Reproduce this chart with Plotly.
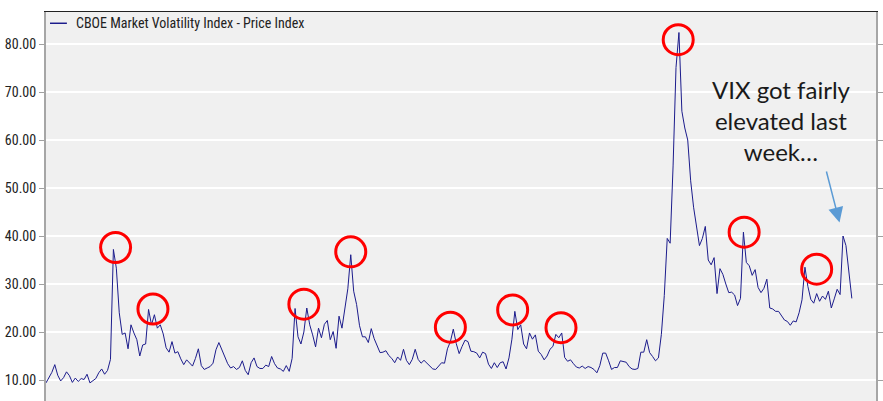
import plotly.graph_objects as go
import pandas as pd

series_name = "CBOE Market Volatility Index - Price Index"
start_date = "2017-11-06"
end_of_axis = "2020-12-13"

vix_values = [
    9.4, 10.4, 11.6, 13.2, 11.0, 9.8, 10.5, 11.7, 10.9, 9.5,
    10.4, 9.7, 10.3, 10.1, 11.2, 9.4, 9.8, 10.3, 11.5, 12.3,
    11.2, 12.0, 14.3, 37.2, 33.3, 24.0, 19.5, 19.8, 16.5, 21.5,
    19.8, 18.4, 15.0, 17.3, 17.5, 24.7, 21.5, 23.6, 20.8, 21.5,
    19.6, 16.7, 15.8, 18.0, 15.6, 15.9, 14.4, 13.2, 14.2, 13.5,
    12.9, 14.5, 16.5, 13.0, 12.2, 12.5, 12.8, 13.5, 16.3, 17.8,
    16.3, 14.5, 13.4, 12.5, 12.8, 12.2, 12.6, 14.0, 12.0, 11.1,
    13.6, 14.6, 12.8, 12.4, 12.4, 13.1, 12.8, 14.9, 13.4, 12.5,
    12.3, 11.8, 13.0, 11.8, 14.5, 24.9, 19.0, 17.5, 20.0, 25.0,
    21.5, 19.4, 16.9, 20.8, 18.8, 21.6, 22.4, 18.4, 20.1, 16.6,
    23.3, 20.8, 25.3, 29.0, 36.1, 28.5, 25.7, 21.3, 19.0, 19.0,
    17.8, 20.7, 18.6, 17.0, 15.7, 15.8, 16.1, 15.1, 14.5, 13.6,
    14.8, 14.1, 16.4, 14.1, 13.2, 14.3, 16.4, 14.3, 13.5, 14.1,
    13.5, 12.8, 12.3, 12.2, 12.8, 13.6, 13.5, 16.5, 18.0, 20.6,
    17.6, 15.5, 17.0, 18.3, 18.0, 16.0, 15.9, 15.6, 14.6, 15.8,
    15.5, 13.3, 12.4, 13.6, 12.6, 13.6, 13.8, 12.3, 14.6, 18.5,
    24.3, 20.5, 21.5, 17.5, 16.5, 19.8, 18.5, 19.4, 16.0, 15.3,
    14.2, 15.0, 16.4, 17.0, 19.5, 18.8, 19.8, 14.7, 13.9, 14.2,
    13.4, 12.7, 12.5, 12.9, 12.4, 12.8, 12.6, 12.2, 11.5, 13.0,
    15.6, 15.6, 14.0, 12.2, 12.6, 12.6, 14.0, 13.8, 13.7, 12.8,
    12.3, 12.2, 12.4, 15.8, 15.8, 18.4, 15.7, 14.9, 14.0, 14.6,
    19.5, 27.6, 39.5, 38.5, 54.6, 75.1, 82.4, 66.0, 62.5, 60.0,
    51.5, 46.0, 41.8, 38.0, 39.5, 42.0, 35.0, 34.0, 35.5, 28.0,
    33.2, 32.0, 30.0, 28.2, 28.3, 27.7, 25.5, 27.0, 40.8, 34.5,
    33.8, 31.8, 33.0, 29.3, 28.2, 29.1, 31.0, 25.0, 24.8, 24.3,
    24.3, 23.3, 22.5, 22.2, 21.4, 22.3, 22.1, 24.0, 26.7, 33.5,
    29.5, 26.8, 26.0, 28.0, 26.4, 27.5, 26.8, 28.5, 25.0, 26.9,
    28.9, 27.8, 40.0, 38.0, 32.5, 27.0,
]

y_tick_values = [10, 20, 30, 40, 50, 60, 70, 80]

# Spikes highlighted with red circles (circle centres)
highlight_dates = ["2018-02-09", "2018-04-01", "2018-10-24", "2018-12-27",
                   "2019-05-12", "2019-08-05", "2019-10-10", "2020-03-18",
                   "2020-06-16", "2020-09-23"]
highlight_values = [37.6, 24.8, 25.8, 36.7, 21.0, 24.6, 20.9, 80.9, 40.8, 33.1]

note_text = "VIX got fairly<br>elevated last<br>week…"

dates = pd.date_range(start_date, periods=len(vix_values), freq="4D")

narrow = "Liberation Sans Narrow, Arial Narrow, Roboto Condensed, sans-serif"

fig = go.Figure()
fig.add_trace(go.Scatter(
    x=dates, y=vix_values, mode="lines", name=series_name,
    line=dict(color="#1c1c8c", width=1), showlegend=False,
))

for d, v in zip(highlight_dates, highlight_values):
    fig.add_shape(type="circle", xref="x", yref="y",
                  xsizemode="pixel", ysizemode="pixel",
                  xanchor=d, yanchor=v, x0=-15, x1=15, y0=-15, y1=15,
                  line=dict(color="#ff0000", width=3), layer="above")

# legend (drawn by hand to match the small line sample)
fig.add_shape(type="line", xref="paper", yref="paper",
              x0=4 / 834, x1=21 / 834, y0=0.971, y1=0.971,
              line=dict(color="#1c1c8c", width=1.5))
fig.add_annotation(text=series_name, xref="paper", yref="paper",
                   x=28 / 834, y=0.971, xanchor="left", yanchor="middle",
                   showarrow=False, font=dict(family=narrow, size=14, color="#222222"))

# text note
fig.add_annotation(text=note_text, xref="paper", yref="paper",
                   x=0.886, y=0.72, xanchor="center", yanchor="middle",
                   showarrow=False, align="center",
                   font=dict(family="Lato, Carlito, sans-serif", size=24, color="#1a1a1a"))

# arrow to last week's spike
tail = vix_values[-10:]
peak_idx = len(vix_values) - 10 + tail.index(max(tail))
fig.add_annotation(x=dates[peak_idx], y=vix_values[peak_idx], xref="x", yref="y",
                   text="", showarrow=True, ax=-17, ay=-66, standoff=14,
                   arrowhead=2, arrowsize=2, arrowwidth=1.5, arrowcolor="#5b9bd5")

fig.update_layout(
    width=883, height=401,
    margin=dict(l=46, r=3, t=12, b=0),
    paper_bgcolor="white", plot_bgcolor="#f0f0f0",
    showlegend=False,
    xaxis=dict(range=[start_date, end_of_axis], side="top", showline=True,
               linecolor="#222222", linewidth=1, showgrid=False,
               showticklabels=False, ticks="", zeroline=False),
    yaxis=dict(range=[5.625, 86.67], tickvals=y_tick_values, tickformat=".2f",
               ticks="outside", ticklen=5, tickcolor="#a0a0a0",
               showline=True, linecolor="#a6a6a6", linewidth=2, mirror="ticks",
               showgrid=True, gridcolor="white", gridwidth=2, zeroline=False,
               tickfont=dict(family=narrow, size=14, color="#222222")),
)

fig.write_html("out.html", config={"displayModeBar": False},
               post_script="document.body.style.margin='0';document.body.style.overflow='hidden';")
